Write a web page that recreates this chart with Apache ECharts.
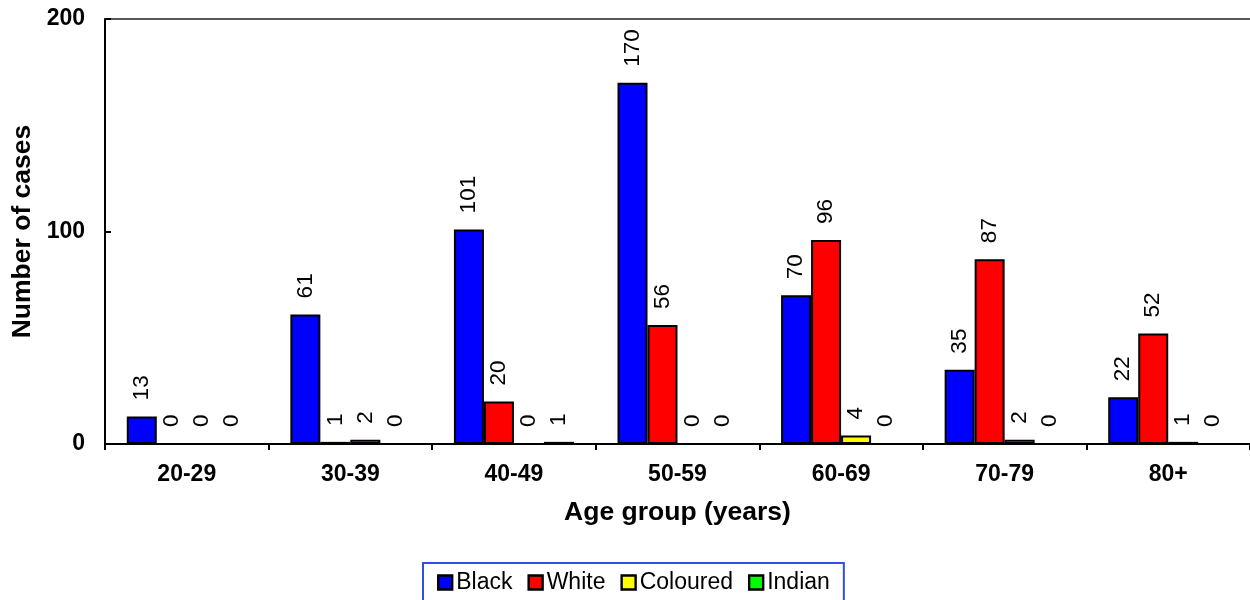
<!DOCTYPE html>
<html>
<head>
<meta charset="utf-8">
<title>Number of cases by age group</title>
<script src="https://cdn.jsdelivr.net/npm/echarts@6/dist/echarts.min.js"></script>
<style>
  html, body { margin: 0; padding: 0; background: #fff; }
  #chart { width: 1250px; height: 600px; }
</style>
</head>
<body>
<div id="chart"></div>
<script>
// Age groups and case counts by population group
const ageGroups = ['20-29', '30-39', '40-49', '50-59', '60-69', '70-79', '80+'];
const black    = [13, 61, 101, 170, 70, 35, 22];
const white    = [0, 1, 20, 56, 96, 87, 52];
const coloured = [0, 2, 0, 0, 4, 2, 1];
const indian   = [0, 0, 1, 0, 0, 0, 0];
const yTicks   = [0, 100, 200];

const FONT = '"Liberation Sans", Arial, sans-serif';

const groups = [
  { name: 'Black',    data: black,    color: '#0000ff' },
  { name: 'White',    data: white,    color: '#ff0000' },
  { name: 'Coloured', data: coloured, color: '#ffff00' },
  { name: 'Indian',   data: indian,   color: '#00ff00' }
];

const chart = echarts.init(document.getElementById('chart'), null, { renderer: 'canvas' });

chart.setOption({
  animation: false,
  backgroundColor: '#ffffff',
  textStyle: { fontFamily: FONT },
  grid: { left: 105, right: 0, top: 19, bottom: 156, containLabel: false },
  legend: {
    data: groups.map(g => g.name),
    left: 423,
    top: 563,
    orient: 'horizontal',
    icon: 'rect',
    itemWidth: 14,
    itemHeight: 14,
    itemGap: 15,
    padding: [8, 14, 9, 14],
    borderColor: '#2f50e0',
    borderWidth: 2,
    itemStyle: { borderColor: '#000', borderWidth: 2.4 },
    textStyle: { fontFamily: FONT, fontSize: 23, color: '#000', padding: [0, 0, 0, -1] }
  },
  xAxis: [
    {
      type: 'category',
      data: ageGroups,
      boundaryGap: true,
      name: 'Age group (years)',
      nameLocation: 'middle',
      nameGap: 55,
      nameTextStyle: { fontFamily: FONT, fontSize: 26.5, fontWeight: 'bold', color: '#000' },
      axisLine: { lineStyle: { color: '#000', width: 2 } },
      axisTick: { show: true, length: 6, inside: false, lineStyle: { color: '#000', width: 2 } },
      axisLabel: { fontFamily: FONT, fontSize: 23, fontWeight: 'bold', color: '#000', margin: 19 },
      splitLine: { show: false }
    },
    {
      // plain frame line along the top of the plot
      type: 'category',
      data: ageGroups,
      position: 'top',
      axisLine: { show: true, lineStyle: { color: '#222', width: 1.5 } },
      axisTick: { show: false },
      axisLabel: { show: false },
      splitLine: { show: false }
    }
  ],
  yAxis: {
    type: 'value',
    min: yTicks[0],
    max: yTicks[yTicks.length - 1],
    interval: 100,
    name: 'Number of cases',
    nameLocation: 'middle',
    nameGap: 69,
    nameRotate: 90,
    nameTextStyle: { fontFamily: FONT, fontSize: 26.5, fontWeight: 'bold', color: '#000' },
    axisLine: { show: true, lineStyle: { color: '#000', width: 2 } },
    axisTick: { show: true, inside: true, length: 6, lineStyle: { color: '#000', width: 2 } },
    axisLabel: { fontFamily: FONT, fontSize: 23, fontWeight: 'bold', color: '#000', margin: 20 },
    splitLine: { show: false }
  },
  series: groups.map(g => ({
    name: g.name,
    type: 'bar',
    data: g.data,
    barWidth: 30,
    barGap: '0%',
    itemStyle: { color: g.color, borderColor: '#000', borderWidth: 2 },
    label: {
      show: true,
      position: 'top',
      rotate: 90,
      align: 'left',
      verticalAlign: 'middle',
      distance: 16,
      fontFamily: FONT,
      fontSize: 22.5,
      color: '#000',
      formatter: p => String(p.value)
    },
    emphasis: { disabled: true }
  }))
});
</script>
</body>
</html>
